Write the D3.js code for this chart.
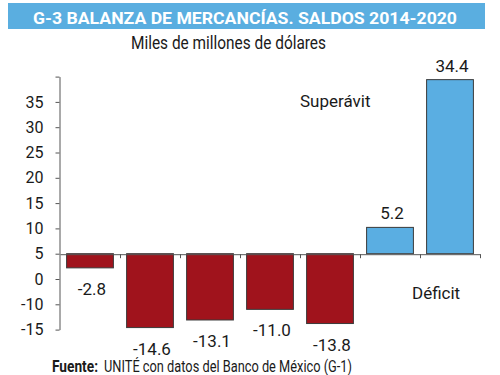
<!DOCTYPE html>
<html>
<head>
    <meta charset="utf-8">
    <title>G-3 Balanza de mercancías</title>
    <script src="https://cdn.jsdelivr.net/npm/d3@7/dist/d3.min.js"></script>
    <style>
        body { margin: 0; background: #fff; }
        text { font-family: "Liberation Sans Narrow", "Roboto", sans-serif; fill: #1a1a1a; }
        .axis path, .axis line { stroke: #555; }
    </style>
</head>
<body>
    <div id="chart"></div>
    <script>
        // data
        const years = ["2014", "2015", "2016", "2017", "2018", "2019", "2020"];
        const saldos = [-2.8, -14.6, -13.1, -11.0, -13.8, 5.2, 34.4];
        const valueLabels = ["-2.8", "-14.6", "-13.1", "-11.0", "-13.8", "5.2", "34.4"];
        // the printed axis is shifted and skips "-5", so labels don't follow the tick values
        const yTicks = [35, 30, 25, 20, 15, 10, 5, 0, -5, -10, -15];
        const yTickLabels = ["", "35", "30", "25", "20", "15", "10", "5", "0", "-10", "-15"];

        const width = 500, height = 375;

        const svg = d3.select('#chart')
            .append('svg')
            .attr('width', width)
            .attr('height', height);

        // title bar
        svg.append('rect')
            .attr('x', 8).attr('y', 3)
            .attr('width', 477).attr('height', 26)
            .attr('fill', '#5aaee0');
        svg.append('text')
            .attr('x', 245).attr('y', 24)
            .attr('text-anchor', 'middle')
            .attr('textLength', 424)
            .attr('lengthAdjust', 'spacingAndGlyphs')
            .style('font-family', 'Roboto, sans-serif')
            .style('font-weight', 'bold')
            .style('font-size', '16px')
            .style('fill', '#fff')
            .text('G-3 BALANZA DE MERCANCÍAS. SALDOS 2014-2020');

        svg.append('text')
            .attr('x', 228.5).attr('y', 49)
            .attr('text-anchor', 'middle')
            .attr('textLength', 195)
            .attr('lengthAdjust', 'spacingAndGlyphs')
            .style('font-size', '18px')
            .text('Miles de millones de dólares');

        const x = d3.scaleBand()
            .domain(years)
            .range([60, 480])
            .paddingInner(0.22)
            .paddingOuter(0.11);

        const y = d3.scaleLinear()
            .domain([-15, 35])
            .range([329.6, 76.6]);

        // y axis
        const yAxis = svg.append('g')
            .attr('class', 'axis')
            .attr('transform', 'translate(59.5,0)')
            .call(d3.axisLeft(y)
                .tickValues(yTicks)
                .tickSize(4)
                .tickSizeOuter(0)
                .tickPadding(12)
                .tickFormat((d, i) => yTickLabels[i]));
        yAxis.selectAll('text')
            .style('font-size', '16px');

        // bars
        svg.selectAll('.bar')
            .data(saldos)
            .enter()
            .append('rect')
            .attr('class', 'bar')
            .attr('x', (d, i) => x(years[i]))
            .attr('width', x.bandwidth())
            .attr('y', d => y(Math.max(0, d)))
            .attr('height', d => Math.abs(y(d) - y(0)))
            .attr('fill', d => d < 0 ? '#a0131c' : '#5aaee2')
            .attr('stroke', '#3a3a3a')
            .attr('stroke-width', 1);

        // baseline with ticks at category boundaries
        const xEdge = d3.scaleLinear().domain([0, years.length]).range([60, 480]);
        svg.append('g')
            .attr('class', 'axis')
            .attr('transform', 'translate(0,' + (y(0) + 0.5) + ')')
            .call(d3.axisBottom(xEdge)
                .tickValues(d3.range(1, years.length + 1))
                .tickSize(4)
                .tickSizeOuter(0)
                .tickFormat(''));

        // value labels
        svg.selectAll('.val')
            .data(saldos)
            .enter()
            .append('text')
            .attr('class', 'val')
            .attr('x', (d, i) => x(years[i]) + x.bandwidth() / 2 + 2)
            .attr('y', d => d < 0 ? y(d) + 27 : y(d) - 8)
            .attr('text-anchor', 'middle')
            .style('font-size', '17px')
            .text((d, i) => valueLabels[i]);

        svg.append('text')
            .attr('x', 300).attr('y', 107)
            .style('font-size', '17px')
            .text('Superávit');

        svg.append('text')
            .attr('x', 412).attr('y', 299)
            .style('font-size', '17px')
            .text('Déficit');

        // source
        svg.append('text')
            .attr('x', 52).attr('y', 372)
            .attr('textLength', 46)
            .attr('lengthAdjust', 'spacingAndGlyphs')
            .style('font-size', '16px')
            .style('font-weight', 'bold')
            .text('Fuente:');
        svg.append('text')
            .attr('x', 104).attr('y', 372)
            .attr('textLength', 248)
            .attr('lengthAdjust', 'spacingAndGlyphs')
            .style('font-size', '16px')
            .text('UNITÉ con datos del Banco de México (G-1)');
    </script>
</body>
</html>
